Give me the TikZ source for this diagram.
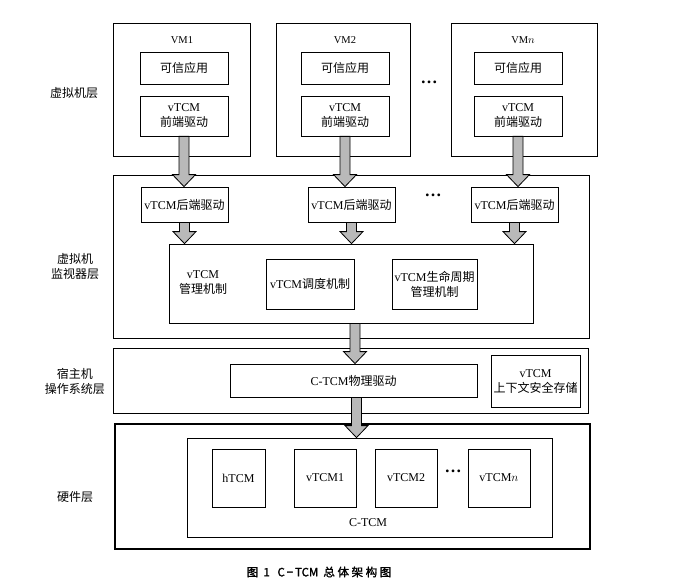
\documentclass[tikz,border=0pt]{standalone}
\usepackage{fontspec}
\setmainfont{Liberation Serif}
\newfontfamily\cjk{Noto Sans CJK SC}
\newfontfamily\cjkbold[FakeBold=1.6]{Noto Sans CJK SC}
\newcommand{\zh}[1]{{\cjk #1}}
\usetikzlibrary{calc}
% grey block arrow, straight down from #1 to #2
\newcommand{\fatarrow}[2]{%
  \draw[fill=gray!55, line width=0.8pt] let \p1=#1, \p2=#2 in
    (\x1-5pt,\y1) -- (\x1+5pt,\y1) -- (\x1+5pt,\y2+12pt) -- (\x1+11.5pt,\y2+12pt)
    -- (\x1,\y2) -- (\x1-11.5pt,\y2+12pt) -- (\x1-5pt,\y2+12pt) -- cycle;}

\begin{document}
\begin{tikzpicture}[x=1pt,y=-1pt,
  font=\fontsize{12}{15}\selectfont,
  box/.style={draw, line width=0.8pt, inner sep=1pt, align=center},
  appbox/.style={box, minimum width=88pt, minimum height=32pt},
  febox/.style={box, minimum width=88pt, minimum height=40pt},
  bebox/.style={box, minimum width=87pt, minimum height=35pt},
  tcmbox/.style={box, minimum height=58pt},
  dots/.style={font=\fontsize{17}{17}\bfseries},
  layer/.style={align=center}]
\useasboundingbox (0,0) rectangle (681,586);

% virtual machine layer
\node[box, minimum width=137pt, minimum height=133pt] (vm1) at (181.5,89.5) {};
\node[box, minimum width=134pt, minimum height=133pt] (vm2) at (343,89.5) {};
\node[box, minimum width=146pt, minimum height=133pt] (vmn) at (524,89.5) {};
\node (vm1l) at (182,40) {\fontsize{10.5}{12}\selectfont VM1};
\node (vm2l) at (345,40) {\fontsize{10.5}{12}\selectfont VM2};
\node (vmnl) at (523,40) {\fontsize{10.5}{12}\selectfont VM$n$};
\node[appbox] (app1) at (184,68) {\zh{可信应用}};
\node[appbox] (app2) at (345,68) {\zh{可信应用}};
\node[appbox] (appn) at (518,68) {\zh{可信应用}};
\node[febox] (fe1) at (184,116) {vTCM\\\zh{前端驱动}};
\node[febox] (fe2) at (345,116) {vTCM\\\zh{前端驱动}};
\node[febox] (fen) at (518,116) {vTCM\\\zh{前端驱动}};
\node[dots] (dotsa) at (429,82) {…};

% hypervisor layer
\node[box, minimum width=476pt, minimum height=163pt] (vmm) at (351,256.5) {};
\node[bebox] (be1) at (184.5,204.5) {vTCM\zh{后端驱动}};
\node[bebox] (be2) at (351.5,204.5) {vTCM\zh{后端驱动}};
\node[bebox] (ben) at (514.5,204.5) {vTCM\zh{后端驱动}};
\node[dots] (dotsb) at (433,195) {…};
\node[box, minimum width=364pt, minimum height=79pt] (mgmt) at (351,283.5) {};
\node (mgmtl) at (203,283) [align=center] {vTCM\\\zh{管理机制}};
\node[box, minimum width=88pt, minimum height=50pt] (sched) at (310,284) {vTCM\zh{调度机制}};
\node[box, minimum width=85pt, minimum height=50pt] (life) at (434.5,284) {vTCM\zh{生命周期}\\\zh{管理机制}};

% host OS layer
\node[box, minimum width=475pt, minimum height=65pt] (host) at (350.5,380.5) {};
\node[box, minimum width=247pt, minimum height=33pt] (phys) at (353.5,380.5) {C-TCM\zh{物理驱动}};
\node[box, minimum width=89pt, minimum height=52pt] (ctx) at (535.5,381) {vTCM\\\zh{上下文安全存储}};

% hardware layer
\node[box, line width=1.3pt, minimum width=475pt, minimum height=125pt] (hw) at (352.5,486.5) {};
\node[box, minimum width=365pt, minimum height=99pt] (ctcm) at (369.5,487.5) {};
\node[tcmbox, minimum width=53pt] (htcm) at (238.5,478) {hTCM};
\node[tcmbox, minimum width=62pt] (vtcm1) at (325,478) {vTCM1};
\node[tcmbox, minimum width=62pt] (vtcm2) at (406,478) {vTCM2};
\node[dots] (dotsc) at (453,471) {…};
\node[tcmbox, minimum width=62pt] (vtcmn) at (499,478) {vTCM$n$};
\node (ctcml) at (368,523) {C-TCM};

% layer names
\node[layer] (l1) at (74,93) {\zh{虚拟机层}};
\node[layer] (l2) at (75,266) {\zh{虚拟机}\\\zh{监视器层}};
\node[layer] (l3) at (75,381) {\zh{宿主机}\\\zh{操作系统层}};
\node[layer] (l4) at (75,497) {\zh{硬件层}};

% block arrows
\fatarrow{(fe1.south)}{(be1.north)}
\fatarrow{(fe2.south)}{(be2.north)}
\fatarrow{(fen.south)}{(ben.north)}
\fatarrow{(be1.south)}{(mgmt.north)}
\fatarrow{(be2.south)}{(mgmt.north)}
\fatarrow{(ben.south)}{(mgmt.north)}
\fatarrow{([xshift=4pt]mgmt.south)}{(phys.north)}
\fatarrow{([xshift=3pt]phys.south)}{(ctcm.north)}

\node (cap) at (319,572) {\cjkbold\fontsize{11.5}{13}\selectfont 图\ \ 1\ \ \ C\,−\,TCM\ \ 总\ 体\ 架\ 构\ 图};
\end{tikzpicture}
\end{document}
